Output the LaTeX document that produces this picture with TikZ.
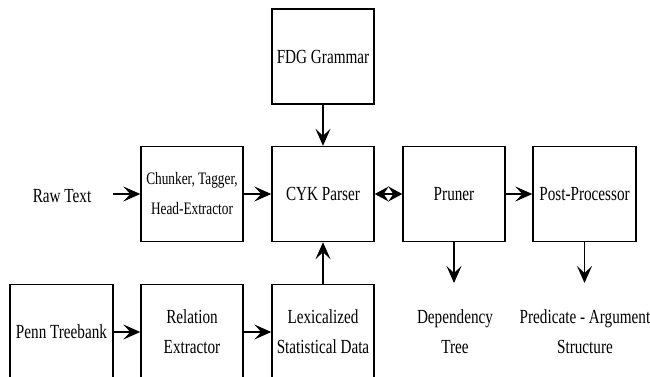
\documentclass[tikz,border=0pt]{standalone}
\usepackage{fontspec}
\setmainfont{Liberation Serif}[FakeStretch=0.76]
\usetikzlibrary{arrows.meta}
\begin{document}
\begin{tikzpicture}[x=1pt,y=-1pt,
  box/.style={draw=black,line width=1.4pt,minimum width=102pt,minimum height=95pt,inner sep=2pt,align=center,
    font=\fontsize{20}{30}\selectfont},
  lbl/.style={inner sep=0pt,align=center,font=\fontsize{20}{30}\selectfont},
  arr/.style={line width=1.4pt,-{Stealth[length=17pt,width=15pt,inset=7pt]}},
  darr/.style={line width=1.4pt,{Stealth[length=14pt,width=15pt,inset=5pt]}-{Stealth[length=14pt,width=15pt,inset=5pt]}}]
\useasboundingbox (0,0) rectangle (650,377);
\fill[white] (0,0) rectangle (650,377);
\clip (0,0) rectangle (650,377);
\node[box] (fdg) at (323,56.5) {FDG Grammar};
\node[box] (chunk) at (192,194) {\fontsize{17.5}{30}\selectfont Chunker, Tagger,\\\fontsize{17.5}{30}\selectfont Head-Extractor};
\node[box] (cyk) at (323,194) {CYK Parser};
\node[box] (pruner) at (454,194) {Pruner};
\node[box,minimum width=103pt] (post) at (584.5,194) {Post-Processor};
\node[box,minimum width=103pt] (penn) at (61.5,332) {Penn Treebank};
\node[box] (rel) at (192,332) {Relation\\Extractor};
\node[box] (lex) at (323,332) {Lexicalized\\Statistical Data};
\node[lbl] (raw) at (62,196) {Raw Text};
\node[lbl] (dep) at (455,332) {Dependency\\Tree};
\node[lbl] (pas) at (585,332) {Predicate - Argument\\Structure};
\coordinate (rawout) at (113,194);
\coordinate (depin) at (454,283);
\coordinate (pasin) at (584.5,283);
\draw[arr] (rawout) -- (chunk.west);
\draw[arr] (chunk) -- (cyk);
\draw[arr] (fdg) -- (cyk);
\draw[arr] (lex) -- (cyk);
\draw[darr] (cyk) -- (pruner);
\draw[arr] (pruner) -- (post);
\draw[arr] (pruner.south) -- (depin);
\draw[arr] (post.south) -- (pasin);
\draw[arr] (penn) -- (rel);
\draw[arr] (rel) -- (lex);
\end{tikzpicture}
\end{document}
